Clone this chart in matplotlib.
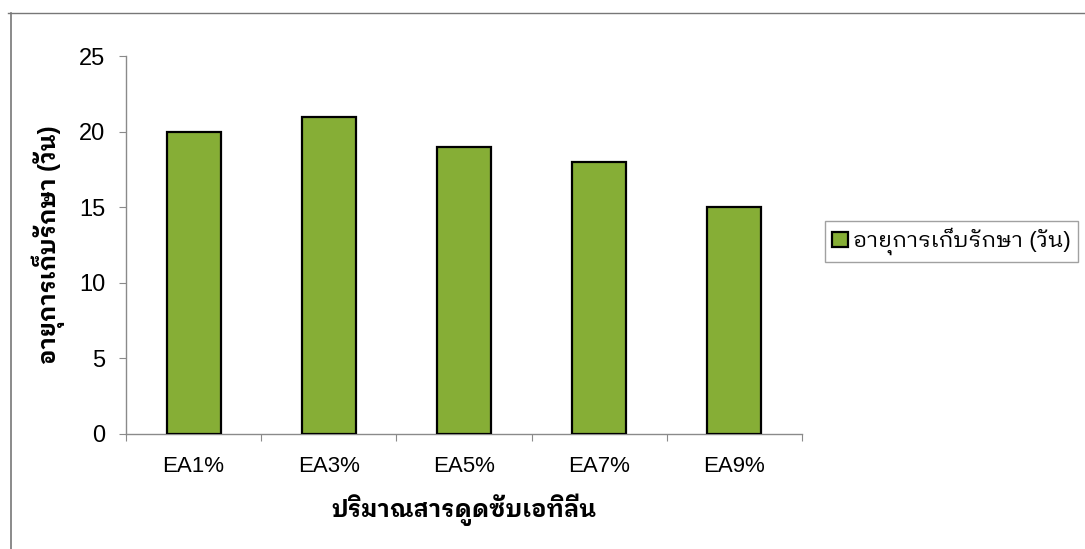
import matplotlib
matplotlib.use("Agg")
import matplotlib.pyplot as plt
from matplotlib.lines import Line2D

plt.rcParams["font.family"] = ["Liberation Sans", "IBM Plex Sans Thai Looped"]

# storage life (days) for each ethylene absorber level
categories = ["EA1%", "EA3%", "EA5%", "EA7%", "EA9%"]
storage_days = [20, 21, 19, 18, 15]
series_name = "อายุการเก็บรักษา (วัน)"
x_title = "ปริมาณสารดูดซับเอทิลีน"
y_title = "อายุการเก็บรักษา (วัน)"
y_ticks = [0, 5, 10, 15, 20, 25]

bar_color = "#86ae36"
axis_grey = "#8a8a8a"

fig = plt.figure(figsize=(10.85, 5.49), dpi=100)
ax = fig.add_axes([0.1161, 0.2095, 0.623, 0.6876])

xs = range(len(categories))
ax.bar(xs, storage_days, width=0.4, color=bar_color, edgecolor="black",
       linewidth=1.6, label=series_name, zorder=3)

ax.set_xlim(-0.5, len(categories) - 0.5)
ax.set_ylim(0, 25)
ax.set_yticks(y_ticks)
# category boundaries carry the tick marks, labels sit between them
ax.set_xticks([i + 0.5 for i in range(-1, len(categories))])
ax.set_xticklabels([])
ax.set_xticks(list(xs), minor=True)
ax.set_xticklabels(categories, minor=True)

ax.tick_params(axis="x", which="major", length=5, color=axis_grey, direction="out")
ax.tick_params(axis="x", which="minor", length=0, labelsize=16, pad=16)
ax.tick_params(axis="y", length=5, color=axis_grey, labelsize=17, pad=10)

for side in ("top", "right"):
    ax.spines[side].set_visible(False)
for side in ("left", "bottom"):
    ax.spines[side].set_color(axis_grey)
    ax.spines[side].set_linewidth(1.0)

ax.set_xlabel(x_title, fontsize=17, fontweight="bold", labelpad=12)
ax.set_ylabel(y_title, fontsize=17, fontweight="bold", labelpad=10)

leg = fig.legend(loc="center", bbox_to_anchor=(0.877, 0.56), fontsize=16,
                 frameon=True, fancybox=False, handlelength=0.7,
                 handleheight=0.7, handletextpad=0.25, borderpad=0.3)
leg.get_frame().set_edgecolor(axis_grey)
leg.get_frame().set_linewidth(1.0)

# page border lines at the top and left
fig.add_artist(Line2D([8 / 1085, 1.0], [1 - 13 / 549] * 2, color="#777777",
                      linewidth=1.0, transform=fig.transFigure))
fig.add_artist(Line2D([11 / 1085] * 2, [0.0, 1 - 13 / 549], color="#777777",
                      linewidth=1.2, transform=fig.transFigure))

fig.savefig("out.png", dpi=100)
